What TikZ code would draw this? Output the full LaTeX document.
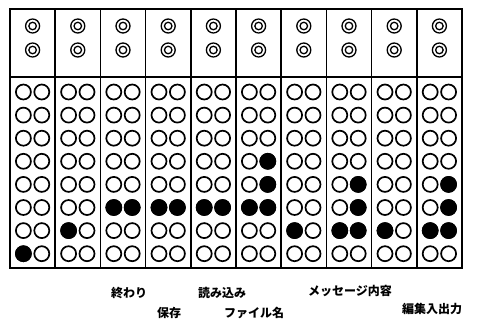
\documentclass[tikz,border=0pt]{standalone}
\usepackage{fontspec}
\newfontfamily\jpfont{Noto Sans CJK JP}[UprightFont=* Black]
\tikzset{
  hole/.style={circle, draw, line width=1.7pt, minimum size=15pt, inner sep=0pt},
  punched/.style={hole, fill=black},
  ring/.style={circle, draw, line width=1.3pt, minimum size=14pt, inner sep=0pt},
  ringin/.style={circle, draw, line width=1.3pt, minimum size=7.5pt, inner sep=0pt},
  lbl/.style={font=\jpfont\fontsize{12pt}{13pt}\selectfont, inner sep=0pt},
  frame/.style={line width=1.8pt},
  divider/.style={line width=1.5pt}
}
\begin{document}
\begin{tikzpicture}[x=1pt,y=-1pt]
\useasboundingbox (0,0) rectangle (483,322);
\coordinate (tl) at (10,9);
\coordinate (br) at (462,268);
\draw[frame] (tl) rectangle (br);
\coordinate (ml) at (10,77);
\coordinate (mr) at (462,77);
\draw[line width=2.2pt] (ml) -- (mr);
\foreach \i in {1,...,9} {
  \pgfmathsetmacro\xx{10+45.2*\i}
  \coordinate (dt\i) at (\xx,9);
  \coordinate (db\i) at (\xx,268);
  \draw[divider] (dt\i) -- (db\i);
}
% top rings
\foreach \i in {1,...,10} {
  \pgfmathsetmacro\xc{10+45.2*\i-22.6}
  \node[ring] (ra\i) at (\xc,26) {};
  \node[ringin] (ria\i) at (\xc,26) {};
  \node[ring] (rb\i) at (\xc,50) {};
  \node[ringin] (rib\i) at (\xc,50) {};
}
% empty holes
\foreach \i in {1,...,10} {
  \pgfmathsetmacro\xc{10+45.2*\i-22.6}
  \foreach \r in {1,...,8} {
    \pgfmathsetmacro\yc{92+23.1*(\r-1)}
    \node[hole] (hL\i-\r) at (\xc-9.2,\yc) {};
    \node[hole] (hR\i-\r) at (\xc+9.2,\yc) {};
  }
}
% punched holes
\foreach \c/\r/\s in {1/8/L,2/7/L,3/6/L,3/6/R,4/6/L,4/6/R,5/6/L,5/6/R,6/6/L,6/6/R,6/5/R,6/4/R,7/7/L,8/5/R,8/6/R,8/7/L,8/7/R,9/7/L,10/5/R,10/6/R,10/7/L,10/7/R} {
  \node[punched] (p\s\c-\r) at (h\s\c-\r.center) {};
}
\node[lbl] (l1) at (129,293) {終わり};
\node[lbl] (l2) at (169,313) {保存};
\node[lbl] (l3) at (222,293) {読み込み};
\node[lbl] (l4) at (254,313) {ファイル名};
\node[lbl] (l5) at (350,291) {メッセージ内容};
\node[lbl] (l6) at (432,309) {編集入出力};
\end{tikzpicture}
\end{document}
